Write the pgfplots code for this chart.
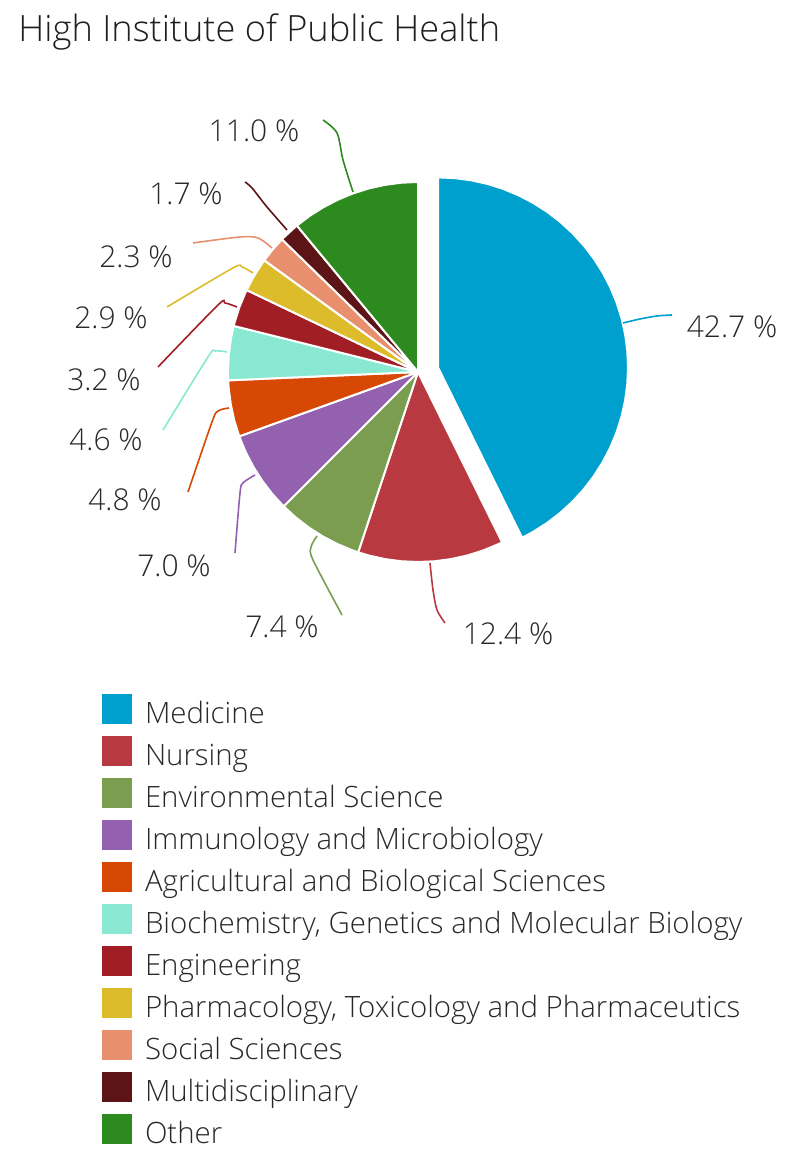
\documentclass[border=0pt]{standalone}
\usepackage{pgfplots}
\pgfplotsset{compat=1.18}
\usepackage{fontspec}
\setmainfont{Open Sans}[UprightFont={* Light}, Ligatures=NoCommon]
\definecolor{cMed}{RGB}{0,160,206}
\definecolor{cNur}{RGB}{184,57,63}
\definecolor{cEnv}{RGB}{122,157,80}
\definecolor{cImm}{RGB}{148,96,176}
\definecolor{cAgr}{RGB}{214,72,4}
\definecolor{cBio}{RGB}{136,232,210}
\definecolor{cEng}{RGB}{160,30,36}
\definecolor{cPha}{RGB}{221,188,44}
\definecolor{cSoc}{RGB}{232,144,110}
\definecolor{cMul}{RGB}{92,20,22}
\definecolor{cOth}{RGB}{45,138,30}
\definecolor{txt}{RGB}{40,40,40}
\begin{document}
\begin{tikzpicture}
\begin{axis}[
  name=pie,
  x=0.5pt, y=0.5pt, xmin=-418, xmax=382, ymin=-793, ymax=372,
  scale only axis, hide axis, clip=false,
  wedge/.style={data cs=polar, fill=#1, draw=white, line width=1pt, line join=round, forget plot},
  lead/.style={draw=#1, line width=0.8pt, smooth, forget plot},
  legend style={at={(axis cs:-316,-322.5)}, anchor=north west, draw=none, fill=none,
    inner sep=0pt, outer sep=0pt, row sep=6pt, column sep=6.5pt,
    font=\fontsize{14.7}{16}\selectfont, text=txt,
    nodes={inner sep=0pt, text height=14pt, text depth=0pt, anchor=west}},
  legend cell align=left,
  legend image code/.code={\fill[#1] (0pt,-7.5pt) rectangle (15pt,7.5pt);},
]
% wedges: (angle, radius) clockwise from 12 o'clock
\addplot[wedge=cMed, xshift=10pt, yshift=2.3pt] coordinates {(0,0) (90,190) (85,190) (80,190) (75,190) (70,190) (65,190) (60,190) (55,190) (50,190) (45,190) (40,190) (35,190) (30,190) (25,190) (20,190) (15,190) (10,190) (5,190) (0,190) (-5,190) (-10,190) (-15,190) (-20,190) (-25,190) (-30,190) (-35,190) (-40,190) (-45,190) (-50,190) (-55,190) (-60,190) (-63.72,190) (0,0)};
\addplot[wedge=cNur] coordinates {(0,0) (-63.72,190) (-65,190) (-70,190) (-75,190) (-80,190) (-85,190) (-90,190) (-95,190) (-100,190) (-105,190) (-108.36,190) (0,0)};
\addplot[wedge=cEnv] coordinates {(0,0) (-108.36,190) (-110,190) (-115,190) (-120,190) (-125,190) (-130,190) (-135,190) (0,0)};
\addplot[wedge=cImm] coordinates {(0,0) (-135,190) (-140,190) (-145,190) (-150,190) (-155,190) (-160,190) (-160.2,190) (0,0)};
\addplot[wedge=cAgr] coordinates {(0,0) (-160.2,190) (-165,190) (-170,190) (-175,190) (-177.48,190) (0,0)};
\addplot[wedge=cBio] coordinates {(0,0) (-177.48,190) (-180,190) (-185,190) (-190,190) (-194.04,190) (0,0)};
\addplot[wedge=cEng] coordinates {(0,0) (-194.04,190) (-195,190) (-200,190) (-205,190) (-205.56,190) (0,0)};
\addplot[wedge=cPha] coordinates {(0,0) (-205.56,190) (-210,190) (-215,190) (-216,190) (0,0)};
\addplot[wedge=cSoc] coordinates {(0,0) (-216,190) (-220,190) (-224.28,190) (0,0)};
\addplot[wedge=cMul] coordinates {(0,0) (-224.28,190) (-225,190) (-230,190) (-230.4,190) (0,0)};
\addplot[wedge=cOth] coordinates {(0,0) (-230.4,190) (-235,190) (-240,190) (-245,190) (-250,190) (-255,190) (-260,190) (-265,190) (-270,190) (0,0)};
% leader lines
\addplot[lead=cMed] coordinates {(205,49) (222,53) (239,56) (254,57)};
\addplot[lead=cNur] coordinates {(12,-191) (15,-218) (19,-238) (27,-251)};
\addplot[lead=cEnv] coordinates {(-101,-164) (-107,-175) (-105,-188) (-76,-243)};
\addplot[lead=cImm] coordinates {(-163,-103) (-175,-111) (-178,-121) (-183,-181)};
\addplot[lead=cAgr] coordinates {(-189,-36) (-200,-39) (-206,-50) (-230,-120)};
\addplot[lead=cBio] coordinates {(-191,20) (-203,21) (-210,15) (-255,-58)};
\addplot[lead=cEng] coordinates {(-181,65) (-193,69) (-200,67) (-260,5)};
\addplot[lead=cPha] coordinates {(-165,99) (-176,105) (-185,104) (-251,65)};
\addplot[lead=cSoc] coordinates {(-146,124) (-160,134) (-178,135) (-225,129)};
\addplot[lead=cMul] coordinates {(-131,142) (-151,165) (-166,184) (-173,190)};
\addplot[lead=cOth] coordinates {(-65,180) (-75,212) (-81,239) (-95,252)};
% legend keys
\addlegendimage{fill=cMed, draw=none}
\addlegendimage{fill=cNur, draw=none}
\addlegendimage{fill=cEnv, draw=none}
\addlegendimage{fill=cImm, draw=none}
\addlegendimage{fill=cAgr, draw=none}
\addlegendimage{fill=cBio, draw=none}
\addlegendimage{fill=cEng, draw=none}
\addlegendimage{fill=cPha, draw=none}
\addlegendimage{fill=cSoc, draw=none}
\addlegendimage{fill=cMul, draw=none}
\addlegendimage{fill=cOth, draw=none}
\legend{Medicine, Nursing, Environmental Science, Immunology and Microbiology, Agricultural and Biological Sciences, {Biochemistry, Genetics and Molecular Biology}, Engineering, {Pharmacology, Toxicology and Pharmaceutics}, Social Sciences, Multidisciplinary, Other}
% labels
\tikzset{pl/.style={font=\fontsize{15}{17}\selectfont, text=txt, inner sep=0pt}}
\node[pl] at (axis cs:314,45) {42.7 \%};
\node[pl] at (axis cs:90,-262) {12.4 \%};
\node[pl] at (axis cs:-136,-255) {7.4 \%};
\node[pl] at (axis cs:-244,-194) {7.0 \%};
\node[pl] at (axis cs:-293,-128) {4.8 \%};
\node[pl] at (axis cs:-312,-68) {4.6 \%};
\node[pl] at (axis cs:-314,-8) {3.2 \%};
\node[pl] at (axis cs:-307,54) {2.9 \%};
\node[pl] at (axis cs:-282,115) {2.3 \%};
\node[pl] at (axis cs:-232,178) {1.7 \%};
\node[pl] at (axis cs:-164,241) {11.0 \%};
\node[anchor=base west, inner sep=0pt, font=\fontsize{18.1}{21}\selectfont, text=black!88] at (axis cs:-400,330) {High Institute of Public Health};
\end{axis}
\pgfresetboundingbox
\path[use as bounding box] (pie.south west) rectangle (pie.north east);
\end{tikzpicture}
\end{document}
